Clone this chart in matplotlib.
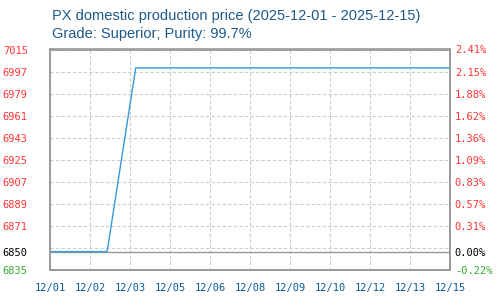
import matplotlib
matplotlib.use("Agg")
import matplotlib.pyplot as plt
import matplotlib.dates as mdates
import numpy as np
import datetime as dt

dates = ["2025-12-01", "2025-12-02", "2025-12-03", "2025-12-04", "2025-12-05",
         "2025-12-08", "2025-12-09", "2025-12-10", "2025-12-11", "2025-12-12",
         "2025-12-15"]
prices = [6850, 6850, 6850, 7000, 7000, 7000, 7000, 7000, 7000, 7000, 7000]
base_price = 6850
y_ticks = [7015, 6997, 6979, 6961, 6943, 6925, 6907, 6889, 6871, 6850, 6835]
grid_lines = [7015, 6997, 6979, 6961, 6943, 6925, 6907, 6889, 6871, 6853, 6835]

title1 = "PX domestic production price (2025-12-01 - 2025-12-15)"
title2 = "Grade: Superior; Purity: 99.7%"

x = mdates.date2num([dt.datetime.strptime(d, "%Y-%m-%d") for d in dates])

fig = plt.figure(figsize=(5, 3), dpi=100)
ax = fig.add_axes([0.1, 0.1, 0.8, 0.735])

x0, x1 = x[0], x[-1]
ax.set_xlim(x0, x1)
ax.set_ylim(min(y_ticks), max(y_ticks))

xt = np.linspace(x0, x1, 11)
for v in xt:
    ax.axvline(v, color="#cccccc", lw=0.8, ls=(0, (3, 2)), zorder=1)
for v in grid_lines:
    ax.axhline(v, color="#cccccc", lw=0.8, ls=(0, (3, 2)), zorder=1)
ax.axhline(base_price, color="#999999", lw=1.0, zorder=2)

ax.plot(x, prices, color="#3399dd", lw=1.0, zorder=3)

mono = "DejaVu Sans Mono"
ax.set_xticks(xt)
ax.set_xticklabels([mdates.num2date(v).strftime("%m/%d") for v in xt],
                   family=mono, fontsize=7.5, color="#0a5a92")
ax.set_yticks(y_ticks)
ax.set_yticklabels([str(v) for v in y_ticks], family=mono, fontsize=7.5)
ax.tick_params(axis="x", length=0, pad=9)
ax.tick_params(axis="y", length=0, pad=16)

def col(v):
    if v > base_price:
        return "#ff3333"
    if v < base_price:
        return "#33aa33"
    return "#000000"

for lab, v in zip(ax.get_yticklabels(), y_ticks):
    lab.set_color(col(v))

ax2 = ax.twinx()
ax2.set_ylim(ax.get_ylim())
ax2.set_yticks(y_ticks)
ax2.set_yticklabels(["%.2f%%" % ((v - base_price) / base_price * 100) for v in y_ticks],
                    family=mono, fontsize=7.5)
ax2.tick_params(axis="y", length=0, pad=3.5)
for lab, v in zip(ax2.get_yticklabels(), y_ticks):
    lab.set_color(col(v))

for a in (ax, ax2):
    for s in a.spines.values():
        s.set_color("#999999")
        s.set_linewidth(1.2)

fig.text(0.104, 0.947, title1, fontsize=10.5, color="#1d5a8c",
         family="Liberation Sans", va="center", ha="left")
fig.text(0.104, 0.887, title2, fontsize=10.5, color="#1d5a8c",
         family="Liberation Sans", va="center", ha="left")

fig.savefig("out.png", dpi=100)
